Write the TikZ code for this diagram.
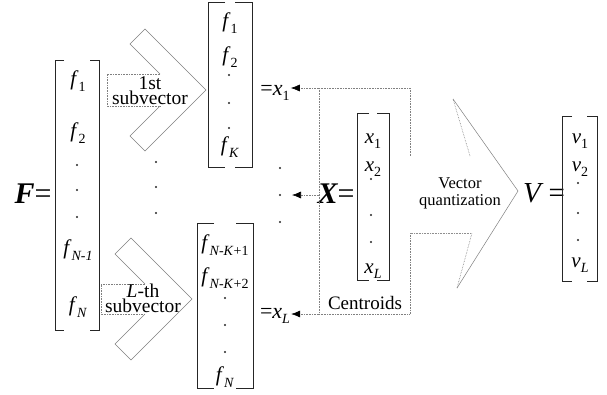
\documentclass[tikz,border=0pt]{standalone}
\usepackage{fontspec}
\setmainfont{Liberation Serif}
\usetikzlibrary{arrows.meta}

% font size helper and "letter with subscript"
\newcommand\fsz[1]{\fontsize{#1}{#1}\selectfont}
\newcommand\sbs[2]{\textit{#1}\raisebox{-0.25em}{\fsz{14}#2}}
% square brackets of a column vector: left x, right x, top, bottom, hook length
\newcommand\mbr[5]{%
  \draw[brk] (#1+#5,#3) -- (#1,#3) -- (#1,#4) -- (#1+#5,#4);
  \draw[brk] (#2-#5,#3) -- (#2,#3) -- (#2,#4) -- (#2-#5,#4);}
% a small ellipsis dot
\newcommand\dotat[2]{\fill[black!85] (#1,#2) circle (1.1);}

\begin{document}
\begin{tikzpicture}[x=1pt,y=-1pt,
  brk/.style={line width=0.9pt, black!85},
  chev/.style={line width=0.5pt, gray},
  dotln/.style={line width=0.6pt, gray, densely dotted},
  arr/.style={dotln, -{Latex[length=9pt,width=7pt,color=black]}},
  elem/.style={font=\fsz{21}, inner sep=0pt},
  eqn/.style={inner sep=1pt},
  lbl/.style={align=center, inner sep=0pt}]

\fill[white] (0,0) rectangle (607,394);
\useasboundingbox (0,0) rectangle (607,394);

% ---- F = [f_1 ... f_N] ----
\node[eqn, font=\fsz{30}] (Feq) at (33,194) {{\bfseries\itshape F}=};
\mbr{55}{99}{60}{330}{9}
\node[elem] (F1) at (78,81) {\sbs{f}{1}};
\node[elem] (F2) at (78,133) {\sbs{f}{2}};
\dotat{77}{165}\dotat{77}{190}\dotat{77}{217}
\node[elem] (Fn1) at (78,250) {\sbs{f}{\textit{N-1}}};
\node[elem] (Fn) at (78,307) {\sbs{f}{\textit{N}}};

% ---- splitting chevrons ----
\draw[chev] (160,74) -- (130,44) -- (145,29) -- (206,90) -- (145,151) -- (130,136) -- (160,106);
\draw[dotln] (160,74) -- (107,74) -- (107,106) -- (160,106);
\node[lbl, font={\fontsize{19.5}{15}\selectfont}] (s1) at (150,91) {1st\\subvector};

\draw[chev] (145,284) -- (115,254) -- (131,238) -- (192,299) -- (131,360) -- (115,344) -- (145,314);
\draw[dotln] (145,284) -- (101,284) -- (101,314) -- (145,314);
\node[lbl, font={\fontsize{19.5}{15}\selectfont}] (sL) at (143,298) {\textit{L}-th\\subvector};

\dotat{156}{162}\dotat{156}{187}\dotat{156}{213}

% ---- first subvector ----
\mbr{208}{252}{2}{167}{17}
\node[elem] (a1) at (230,23) {\sbs{f}{1}};
\node[elem] (a2) at (230,57) {\sbs{f}{2}};
\dotat{229}{75}\dotat{229}{103}\dotat{229}{128}
\node[elem] (aK) at (230,147) {\sbs{f}{\textit{K}}};
\node[eqn, font=\fsz{22}] (x1eq) at (275,93) {=\sbs{x}{1}};

% ---- last subvector ----
\mbr{197}{253}{223}{388}{17}
\node[elem] (b1) at (225,245) {\sbs{f}{\textit{N-K}+1}};
\node[elem] (b2) at (225,278) {\sbs{f}{\textit{N-K}+2}};
\dotat{225}{298}\dotat{225}{325}\dotat{225}{352}
\node[elem] (bN) at (225,377) {\sbs{f}{\textit{N}}};
\node[eqn, font=\fsz{22}] (xLeq) at (275,316) {=\sbs{x}{\textit{L}}};

\dotat{280}{168}\dotat{280}{195}\dotat{280}{222}

% ---- centroids X ----
\node[eqn, font=\fsz{30}] (Xeq) at (336,194) {{\bfseries\itshape X}=};
\mbr{357}{389}{113}{280}{12}
\node[elem] (c1) at (373,141) {\sbs{x}{1}};
\node[elem] (c2) at (373,169) {\sbs{x}{2}};
\dotat{371}{179}\dotat{371}{215}\dotat{371}{242}
\node[elem] (cL) at (373,271) {\sbs{x}{\textit{L}}};
\node[lbl, font=\fsz{19}] (cent) at (365,303) {Centroids};

\coordinate (bNW) at (319,88);
\coordinate (bW) at (319,195);
\coordinate (bSW) at (319,314);
\coordinate (dotsR) at (292,195);
\draw[dotln] (bNW) -- (bSW);
\draw[dotln] (bNW) -- (410,88) -- (410,156) -- (470,156);
\draw[dotln] (bSW) -- (410,314) -- (410,233) -- (472,233);
\draw[arr] (bNW) -- (bNW -| x1eq.east);
\draw[arr] (bW) -- (dotsR);
\draw[arr] (bSW) -- (bSW -| xLeq.east);

% ---- vector quantization arrow ----
\fill[white] (470,156) -- (453,99) -- (518,191) -- (457,288) -- (472,233) -- (410,233) -- (410,156) -- cycle;
\draw[dotln] (470,156) -- (453,99);
\draw[chev] (453,99) -- (518,191) -- (457,288);
\draw[dotln] (457,288) -- (472,233);
\node[lbl, font={\fontsize{16.5}{17}\selectfont}] (vq) at (460,193) {Vector\\quantization};

% ---- V = [v_1 ... v_L] ----
\node[eqn, font=\fsz{29}] (Veq) at (544,193) {\textit{V}\,=};
\mbr{562}{597}{116}{281}{10}
\node[elem] (v1) at (580,141) {\sbs{v}{1}};
\node[elem] (v2) at (580,169) {\sbs{v}{2}};
\dotat{578}{183}\dotat{578}{213}\dotat{578}{240}
\node[elem] (vL) at (580,265) {\sbs{v}{\textit{L}}};
\end{tikzpicture}
\end{document}
